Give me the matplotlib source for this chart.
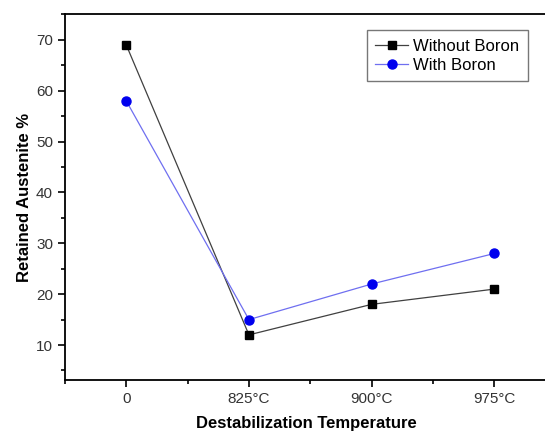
import matplotlib.pyplot as plt
from matplotlib.ticker import MultipleLocator

plt.rcParams['font.family'] = ['Liberation Sans', 'DejaVu Sans']

temps = ['0', '825°C', '900°C', '975°C']
without_boron = [69, 12, 18, 21]
with_boron = [58, 15, 22, 28]

x = list(range(len(temps)))

fig = plt.figure(figsize=(5.45, 4.32), dpi=100)
ax = fig.add_axes([0.119, 0.12, 0.885, 0.848])

ax.plot(x, without_boron, color='#404040', lw=0.9, marker='s', ms=6,
        mfc='black', mec='black', label='Without Boron')
ax.plot(x, with_boron, color='#6f6ff0', lw=0.9, marker='o', ms=6.5,
        mfc='#0000ee', mec='#0000ee', label='With Boron')

ax.set_xlim(-0.5, 3.43)
ax.set_ylim(3.1, 75.1)
ax.set_xticks(x)
ax.set_xticklabels(temps)
ax.xaxis.set_minor_locator(MultipleLocator(0.5))
ax.set_yticks([10, 20, 30, 40, 50, 60, 70])
ax.yaxis.set_minor_locator(MultipleLocator(5))
ax.tick_params(which='both', direction='out', width=1.2, colors='black',
               labelcolor='#333333', labelsize=11)
ax.tick_params(which='major', length=5)
ax.tick_params(which='minor', length=3)
ax.spines['right'].set_visible(False)
for s in ['left', 'bottom', 'top']:
    ax.spines[s].set_linewidth(1.3)

ax.set_xlabel('Destabilization Temperature', fontsize=12, fontweight='bold',
              labelpad=7)
ax.set_ylabel('Retained Austenite %', fontsize=12, fontweight='bold',
              labelpad=3)

leg = ax.legend(loc='upper right', bbox_to_anchor=(0.96, 0.955), fontsize=12,
                fancybox=False, edgecolor='#777777', framealpha=1,
                handlelength=2.0, handletextpad=0.3, borderpad=0.5,
                labelspacing=0.25, borderaxespad=0)
leg.get_frame().set_linewidth(1.0)

fig.savefig('out.png', dpi=100)
